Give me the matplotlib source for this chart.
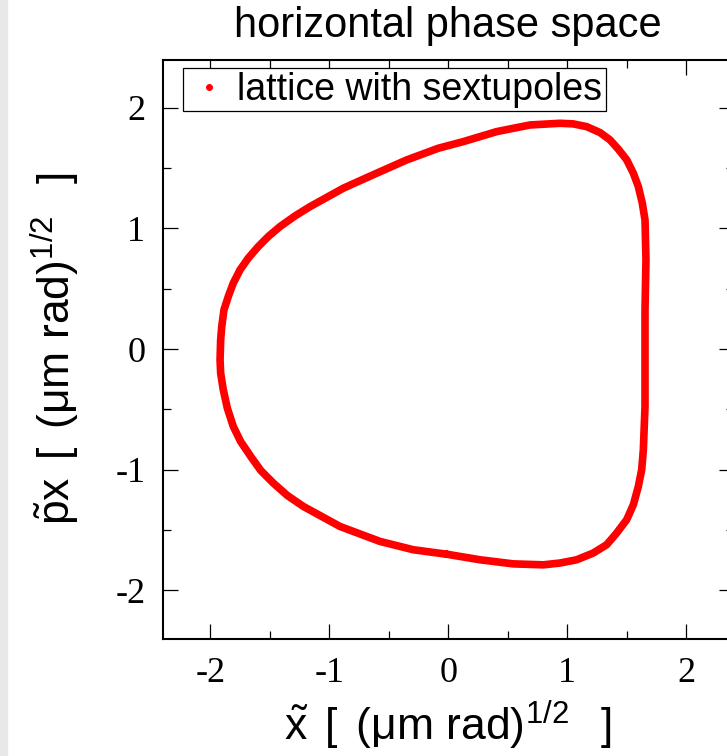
import numpy as np
import matplotlib
matplotlib.use("Agg")
import matplotlib.pyplot as plt
from matplotlib.lines import Line2D
from matplotlib.patches import Rectangle

# points (x~, px~), clockwise from bottom middle
x_pts = [-0.013, -0.294, -0.574, -0.910, -1.218, -1.353, -1.471, -1.576, -1.660, -1.745,
         -1.807, -1.857, -1.891, -1.913, -1.918, -1.913, -1.904, -1.885, -1.849, -1.807,
         -1.750, -1.681, -1.597, -1.513, -1.414, -1.288, -1.162, -0.882, -0.602, -0.350,
         -0.084, 0.126, 0.407, 0.687, 0.939, 1.050, 1.163, 1.275, 1.359, 1.429,
         1.499, 1.555, 1.597, 1.630, 1.653, 1.661, 1.653, 1.653, 1.653, 1.639,
         1.625, 1.597, 1.555, 1.499, 1.415, 1.331, 1.218, 1.079, 0.939, 0.798,
         0.546, 0.266]
y_pts = [-1.700, -1.663, -1.594, -1.470, -1.304, -1.213, -1.110, -1.006, -0.890, -0.766,
         -0.641, -0.489, -0.337, -0.199, -0.089, 0.077, 0.187, 0.326, 0.436, 0.547,
         0.657, 0.754, 0.850, 0.933, 1.016, 1.104, 1.181, 1.334, 1.458, 1.568,
         1.665, 1.720, 1.803, 1.858, 1.872, 1.867, 1.844, 1.795, 1.734, 1.657,
         1.569, 1.458, 1.347, 1.210, 1.071, 0.740, 0.326, -0.089, -0.476, -0.834,
         -1.000, -1.138, -1.290, -1.414, -1.524, -1.621, -1.690, -1.746, -1.773, -1.788,
         -1.780, -1.746]

ticks = [-2, -1, 0, 1, 2]
legend_label = "lattice with sextupoles"
title = "horizontal phase space"
xlabel = r'$\tilde{\mathrm{x}}\,$ [$\,$ (μm rad)$^{\mathrm{1/2}}\,$  ]'
ylabel = r'$\tilde{\mathrm{p}}$x$\,$ [$\,$ (μm rad)$^{\mathrm{1/2}}\,$  ]'

plt.rcParams['axes.unicode_minus'] = False
plt.rcParams['mathtext.fontset'] = 'custom'
plt.rcParams['mathtext.rm'] = 'Liberation Sans'
plt.rcParams['mathtext.it'] = 'Liberation Sans:italic'
plt.rcParams['font.family'] = 'Liberation Sans'

fig = plt.figure(figsize=(7.27, 7.56), dpi=100)
ax = fig.add_axes([0.2238, 0.1552, 0.7857, 0.766])

# light grey strip on the left edge (slide background)
fig.patches.append(Rectangle((0, 0), 7/727, 1, transform=fig.transFigure,
                             color='#e8e8e8', zorder=-1))

xc = np.append(x_pts, x_pts[0])
yc = np.append(y_pts, y_pts[0])
ax.plot(xc, yc, '-', color='red', lw=5.5, solid_joinstyle='round', solid_capstyle='round')

ax.set_xlim(-2.4, 2.4)
ax.set_ylim(-2.4, 2.4)
ax.set_xticks(ticks)
ax.set_yticks(ticks)
ax.set_xticks(np.arange(-2.0, 2.01, 0.5), minor=True)
ax.set_yticks(np.arange(-2.0, 2.01, 0.5), minor=True)
ax.tick_params(which='both', direction='in', top=True, right=True, width=0.9)
ax.tick_params(which='major', length=11)
ax.tick_params(which='minor', length=5.5)
ax.tick_params(axis='x', which='major', pad=13)
ax.tick_params(axis='y', which='major', pad=12.5)
for lab in ax.get_xticklabels() + ax.get_yticklabels():
    lab.set_fontfamily('Liberation Serif')
    lab.set_fontsize(26)
for sp in ax.spines.values():
    sp.set_linewidth(1.5)

ax.set_xlabel(xlabel, fontsize=32)
ax.set_ylabel(ylabel, fontsize=32)
ax.xaxis.set_label_coords(0.5, -0.104)
ax.yaxis.set_label_coords(-0.142, 0.5)

fig.text(448.3/727, 1 - 37/756, title, ha='center', va='baseline', fontsize=30)

handle = Line2D([], [], marker='o', ms=4, color='red', ls='none')
leg = ax.legend([handle], [legend_label], loc='upper left', bbox_to_anchor=(0.0355, 0.9855),
                borderaxespad=0, fontsize=27, handlelength=1.17, handletextpad=0.17,
                borderpad=0.1, fancybox=False, framealpha=1, edgecolor='black')
leg.get_frame().set_linewidth(0.9)

fig.savefig('out.png', dpi=100)
